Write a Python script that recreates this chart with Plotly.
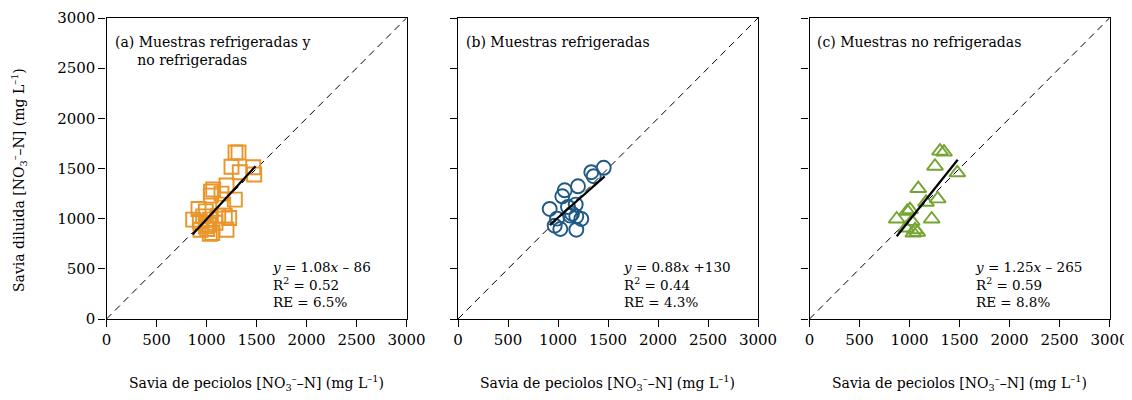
import plotly.graph_objects as go

# Panel (a): refrigerated + non-refrigerated
a_x = [1290, 1320, 1250, 1467, 1333, 1477, 1200, 1067, 1045, 1043, 1150, 1283, 1167, 920, 993,
       867, 967, 1117, 1183, 1227, 1033, 933, 993, 1007, 940, 1057, 1200, 1033, 1020, 1090]
a_y = [1660, 1660, 1517, 1513, 1463, 1440, 1330, 1290, 1270, 1230, 1250, 1190, 1140, 1097, 1073,
       990, 1023, 1030, 1030, 1007, 990, 973, 923, 897, 890, 857, 890, 850, 940, 960]
# Panel (b): refrigerated
b_x = [1457, 1333, 1357, 1200, 1067, 1043, 917, 1100, 1177, 1123, 1183, 1233, 967, 1023, 1183, 990, 1140]
b_y = [1507, 1463, 1423, 1323, 1283, 1223, 1097, 1117, 1140, 1030, 1023, 997, 930, 897, 890, 1000, 1050]
# Panel (c): non-refrigerated
c_x = [1305, 1345, 1255, 1478, 1088, 1165, 1282, 978, 1005, 872, 1222, 1022, 965, 1038, 1078, 1055]
c_y = [1673, 1663, 1523, 1457, 1300, 1163, 1197, 1073, 1090, 997, 997, 973, 907, 857, 863, 890]

# Regression lines (slope, intercept, x range)
fits = [(1.08, -86, [860, 1490]), (0.88, 130, [917, 1467]), (1.25, -265, [872, 1482])]
stats = [("1.08", "– 86", "0.52", "6.5%"), ("0.88", "+130", "0.44", "4.3%"), ("1.25", "– 265", "0.59", "8.8%")]
titles = ["(a) Muestras refrigeradas y<br>     no refrigeradas", "(b) Muestras refrigeradas", "(c) Muestras no refrigeradas"]
ticks = [0, 500, 1000, 1500, 2000, 2500, 3000]

FONT = "DejaVu Serif"
OFF = 8  # page body margin
W, H = 1132 - OFF, 400 - OFF
px_left = [106.5, 458, 809.5]
px_w = 300
y_top, y_bot = 18, 319


def fx(p):
    return (p - OFF) / W


def fy(p):
    return 1 - (p - OFF) / H


fig = go.Figure()
series = [(a_x, a_y, "square-open", "#E8952A"),
          (b_x, b_y, "circle-open", "#1F5A85"),
          (c_x, c_y, "triangle-up-open", "#74A532")]

for i, (xs, ys, sym, col) in enumerate(series):
    xa = "x" if i == 0 else f"x{i+1}"
    ya = "y" if i == 0 else f"y{i+1}"
    fig.add_trace(go.Scatter(x=[0, 3000], y=[0, 3000], mode="lines", xaxis=xa, yaxis=ya,
                             line=dict(color="black", width=1, dash="7px,5px"), showlegend=False))
    fig.add_trace(go.Scatter(x=xs, y=ys, mode="markers", xaxis=xa, yaxis=ya,
                             marker=dict(symbol=sym, size=14, color=col, line=dict(width=1.9, color=col)),
                             showlegend=False))
    m, b, xr = fits[i]
    fig.add_trace(go.Scatter(x=xr, y=[m * v + b for v in xr], mode="lines", xaxis=xa, yaxis=ya,
                             line=dict(color="black", width=2.2), showlegend=False))

    axcommon = dict(range=[0, 3000], tickvals=ticks, ticks="outside", ticklen=7, tickwidth=1.3,
                    tickcolor="black", showline=True, linecolor="black", linewidth=1.3,
                    mirror=True, showgrid=False, zeroline=False, automargin=False,
                    tickfont=dict(family=FONT, size=15, color="black"))
    fig.update_layout(**{
        ("xaxis" if i == 0 else f"xaxis{i+1}"): dict(domain=[fx(px_left[i]), fx(px_left[i] + px_w)],
                                                    anchor=ya, **axcommon),
        ("yaxis" if i == 0 else f"yaxis{i+1}"): dict(domain=[fy(y_bot), fy(y_top)], anchor=xa,
                                                    showticklabels=(i == 0), **axcommon),
    })

    # Panel title
    fig.add_annotation(x=fx(px_left[i] + 6), y=fy(32), xref="paper", yref="paper",
                       text=titles[i], showarrow=False, xanchor="left", yanchor="top", align="left",
                       font=dict(family=FONT, size=14, color="black"))
    # Stats
    s = stats[i]
    fig.add_annotation(x=fx(px_left[i] + 163), y=fy(257), xref="paper", yref="paper",
                       text=f"<i>y</i> = {s[0]}<i>x</i> {s[1]}<br>R<sup>2</sup> = {s[2]}<br>RE = {s[3]}",
                       showarrow=False, xanchor="left", yanchor="top", align="left",
                       font=dict(family=FONT, size=13.5, color="black"))
    # X axis title
    fig.add_annotation(x=fx(px_left[i] + px_w / 2), y=fy(383), xref="paper", yref="paper",
                       text="Savia de peciolos [NO<sub>3</sub><sup>–</sup>–N] (mg L<sup>–1</sup>)",
                       showarrow=False, xanchor="center", yanchor="middle",
                       font=dict(family=FONT, size=14, color="black"))

fig.add_annotation(x=fx(19), y=fy(180), xref="paper", yref="paper",
                   text="Savia diluida [NO<sub>3</sub><sup>–</sup>–N] (mg L<sup>–1</sup>)",
                   showarrow=False, textangle=-90, xanchor="center", yanchor="middle",
                   font=dict(family=FONT, size=14, color="black"))

fig.update_layout(width=W, height=H, margin=dict(l=0, r=0, t=0, b=0),
                  plot_bgcolor="white", paper_bgcolor="white")
fig.write_html("out.html")
